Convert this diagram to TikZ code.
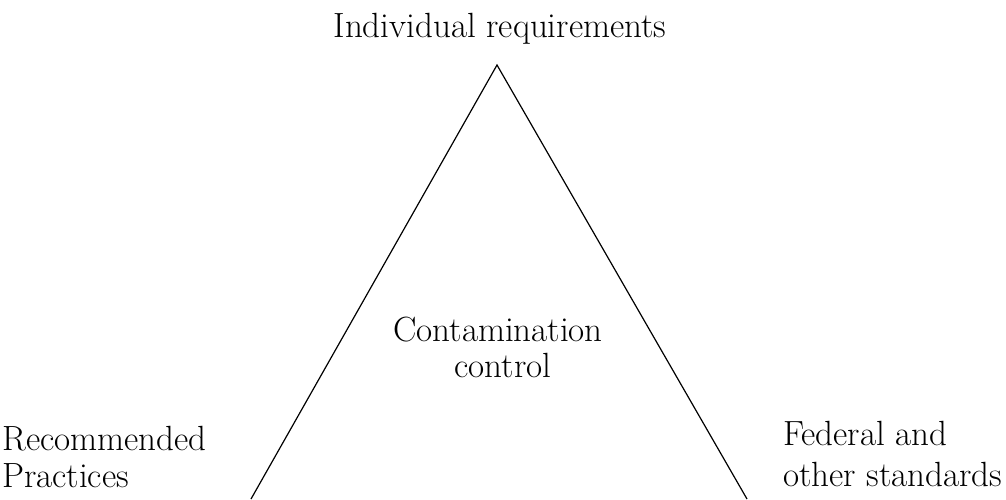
\documentclass[tikz,border=0pt]{standalone}
\begin{document}
\begin{tikzpicture}[x=1pt,y=-1pt,
  lbl/.style={inner sep=0pt,font=\fontsize{35}{40}\selectfont},
  edge/.style={line width=1.2pt,black}]
\useasboundingbox (0,0) rectangle (1006,499);
\coordinate (apex) at (497,65);
\coordinate (bl) at (251,499);
\coordinate (br) at (747,499);
\draw[edge] (bl) -- (apex) -- (br);
\node[lbl,anchor=base] (top) at (500,37) {Individual requirements};
\node[lbl,anchor=base] (cc1) at (498,341) {Contamination};
\node[lbl,anchor=base] (cc2) at (503,377) {control};
\node[lbl,anchor=base west] (rp1) at (2,450) {Recommended};
\node[lbl,anchor=base west] (rp2) at (2,487) {Practices};
\node[lbl,anchor=base west] (fs1) at (783,445) {Federal and};
\node[lbl,anchor=base west] (fs2) at (783,486) {other standards};
\end{tikzpicture}
\end{document}
